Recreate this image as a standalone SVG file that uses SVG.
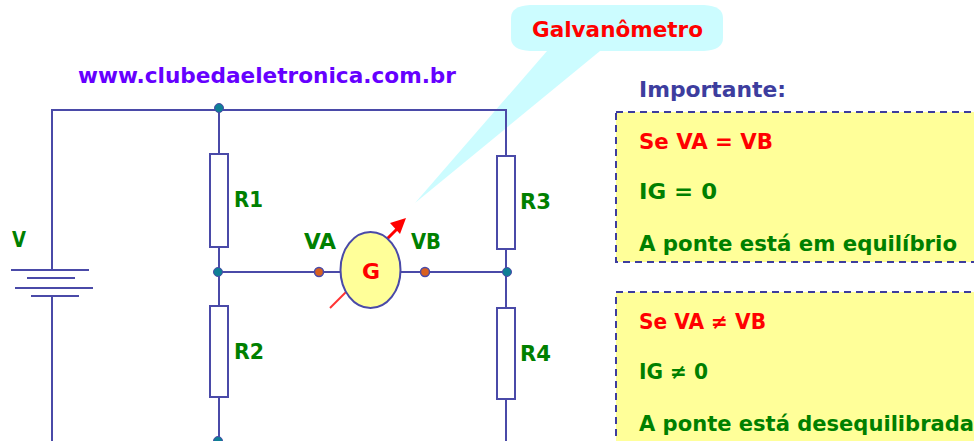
<svg xmlns="http://www.w3.org/2000/svg" width="974" height="441" viewBox="0 0 974 441">
<style>
text{font-family:"DejaVu Sans",sans-serif;font-weight:bold}
.w{fill:none;stroke:#4a4aa8;stroke-width:2}
.r{fill:#fff;stroke:#4a4aa8;stroke-width:2}
.j{fill:#0f7f96;stroke:#4a4aa8;stroke-width:1}
.p{fill:#d9601f;stroke:#4a4aa8;stroke-width:1.5}
.g{fill:#008000;font-size:21px}
.red{fill:#ff0000;font-size:21px}
.box{fill:#ffff99;stroke:#3d3d9e;stroke-width:2;stroke-dasharray:7 5}
</style>
<rect width="974" height="441" fill="#fff"/>
<g id="callout">
<path d="M415 203L547 51H600Z" fill="#ccfcff"/>
<path d="M530 5H704Q723 6 723 18V38Q723 50 704 51H530Q511 50 511 38V18Q511 6 530 5Z" fill="#ccfcff"/>
<text x="532" y="37" class="red" textLength="171" lengthAdjust="spacingAndGlyphs">Galvanômetro</text>
</g>
<text id="url" x="78" y="83" fill="#6600ff" style="font-size:21px" textLength="378" lengthAdjust="spacingAndGlyphs">www.clubedaeletronica.com.br</text>
<g id="connectors">
<path class="w" d="M52 270V110H506V156M219 110V154M219 247V306M506 249V308M219 397V441M506 399V441M219 272H340M401 272H506M52 297V441"/>
<path class="w" d="M11 270H89M27 278H75M15 288H93M31 296H79"/>
<path d="M330 308L355 283" stroke="#ff3333" stroke-width="2" fill="none"/>
<path d="M386 240L398 228" stroke="#ff0000" stroke-width="3" fill="none"/>
<path d="M406 218L400 234L390 223Z" fill="#ff0000"/>
</g>
<g id="R1"><rect class="r" x="210" y="154" width="18" height="93"/><text class="g" x="234" y="207" textLength="29" lengthAdjust="spacingAndGlyphs">R1</text></g>
<g id="R2"><rect class="r" x="210" y="306" width="18" height="91"/><text class="g" x="234" y="359" textLength="30" lengthAdjust="spacingAndGlyphs">R2</text></g>
<g id="R3"><rect class="r" x="497" y="156" width="18" height="93"/><text class="g" x="520" y="209" textLength="31" lengthAdjust="spacingAndGlyphs">R3</text></g>
<g id="R4"><rect class="r" x="497" y="308" width="18" height="91"/><text class="g" x="520" y="361" textLength="31" lengthAdjust="spacingAndGlyphs">R4</text></g>
<g id="battery"><text class="g" x="12" y="247" textLength="14" lengthAdjust="spacingAndGlyphs">V</text></g>
<g id="junctions">
<circle class="j" cx="219" cy="108" r="4.5"/>
<circle class="j" cx="218" cy="272" r="4.5"/>
<circle class="j" cx="507" cy="272" r="4.5"/>
<circle class="j" cx="218" cy="441" r="4.5"/>
</g>
<g id="G">
<ellipse cx="370.5" cy="270" rx="30" ry="38" fill="#ffff99" stroke="#4a4aa8" stroke-width="2"/>
<text class="red" x="371" y="279" text-anchor="middle" style="font-size:22px">G</text>
</g>
<g id="VA"><circle class="p" cx="319" cy="272" r="4.5"/><text class="g" x="304" y="249" textLength="32" lengthAdjust="spacingAndGlyphs">VA</text></g>
<g id="VB"><circle class="p" cx="425" cy="272" r="4.5"/><text class="g" x="411" y="249" textLength="30" lengthAdjust="spacingAndGlyphs">VB</text></g>
<text x="639" y="97" fill="#3d3d9e" style="font-size:21px" textLength="147" lengthAdjust="spacingAndGlyphs">Importante:</text>
<g id="box1">
<rect class="box" x="616" y="112" width="370" height="150"/>
<text class="red" x="639" y="149" textLength="134" lengthAdjust="spacingAndGlyphs">Se VA = VB</text>
<text class="g" x="639" y="199" textLength="78" lengthAdjust="spacingAndGlyphs">IG = 0</text>
<text class="g" x="639" y="251" textLength="318" lengthAdjust="spacingAndGlyphs">A ponte está em equilíbrio</text>
</g>
<g id="box2">
<rect class="box" x="616" y="292" width="370" height="170"/>
<text class="red" x="639" y="329" textLength="127" lengthAdjust="spacingAndGlyphs">Se VA ≠ VB</text>
<text class="g" x="639" y="379" textLength="69" lengthAdjust="spacingAndGlyphs">IG ≠ 0</text>
<text class="g" x="639" y="431" textLength="335" lengthAdjust="spacingAndGlyphs">A ponte está desequilibrada</text>
</g>
</svg>
